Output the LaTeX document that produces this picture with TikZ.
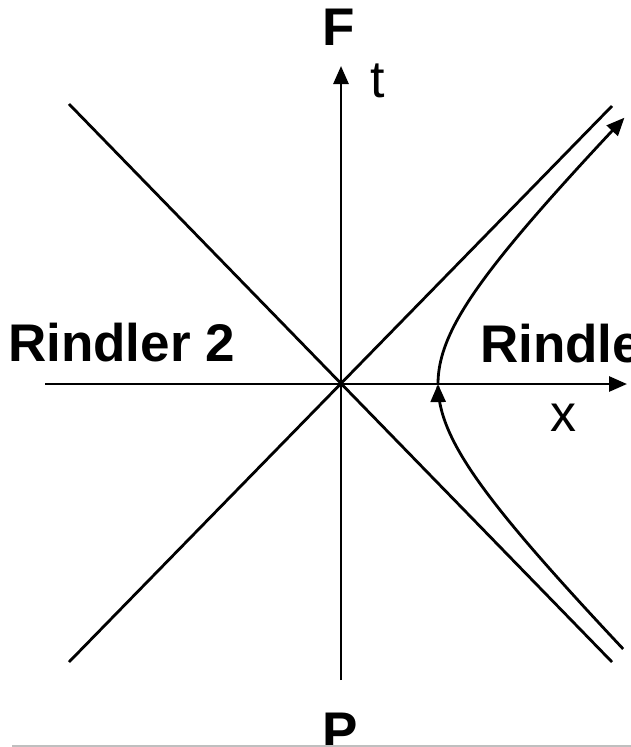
\documentclass[tikz,border=0pt]{standalone}
\usepackage{fontspec}
\setmainfont{Liberation Sans}
\usetikzlibrary{arrows.meta}
\begin{document}
\begin{tikzpicture}[x=1pt,y=-1pt,
  axis/.style={line width=2.8pt},
  tip/.style={-{Triangle[length=18pt,width=15pt]}},
  bigbold/.style={inner sep=0pt,font=\fontsize{53}{63}\selectfont\bfseries},
  bigreg/.style={inner sep=0pt,font=\fontsize{52}{62}\selectfont}]
\useasboundingbox (0,0) rectangle (631,747);
\fill[white] (0,0) rectangle (631,747);
% coordinates
\coordinate (O) at (341,384);
\coordinate (xl) at (45,384);
\coordinate (xr) at (627,384);
\coordinate (tb) at (341,680);
\coordinate (tt) at (341,66);
\coordinate (d1a) at (69,104);
\coordinate (d1b) at (612,662);
\coordinate (d2a) at (69,662);
\coordinate (d2b) at (612,106);
% axes
\draw[axis,tip] (xl) -- (xr);
\draw[axis,tip] (tb) -- (tt);
\draw[axis] (d1a) -- (d1b);
\draw[axis] (d2a) -- (d2b);
% hyperbola
\draw[axis,tip] plot[domain=-1.73:0,samples=60,smooth] ({341+97*cosh(\x)},{384-97*sinh(\x)});
\draw[axis,tip] plot[domain=0:1.735,samples=60,smooth] ({341+97*cosh(\x)},{384-97*sinh(\x)});
% labels
\node[bigbold,anchor=base] (F) at (339,45) {F};
\node[bigreg,anchor=base] (t) at (378,97) {t};
\node[bigbold,anchor=base west] (R2) at (8,361) {Rindler 2};
\node[bigbold,anchor=base west] (R1) at (480,362) {Rindler 1};
\node[bigreg,anchor=base] (x) at (563,431) {x};
\node[bigbold,anchor=base] (P) at (340,749) {P};
% bottom border
\draw[line width=1.5pt,color=black!25] (12,746) -- (631,746);
\end{tikzpicture}
\end{document}
